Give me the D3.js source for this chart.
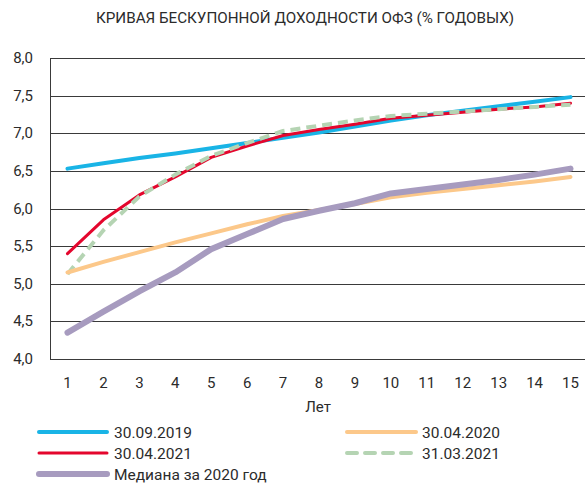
<!DOCTYPE html>
<html><head><meta charset="utf-8">
<script src="https://cdn.jsdelivr.net/npm/d3@7/dist/d3.min.js"></script>
<style>body{margin:0;background:#fff}svg{display:block}text{font-family:Roboto,"Noto Sans",sans-serif;fill:#2b2b2b}</style>
</head><body>
<script>
const years = [1,2,3,4,5,6,7,8,9,10,11,12,13,14,15];
const yTicks = [4.0,4.5,5.0,5.5,6.0,6.5,7.0,7.5,8.0];
const s20190930 = [6.53,6.60,6.67,6.73,6.80,6.87,6.94,7.01,7.09,7.17,7.24,7.30,7.36,7.42,7.48];
const s20200430 = [5.15,5.29,5.42,5.55,5.67,5.79,5.90,5.98,6.06,6.15,6.21,6.26,6.31,6.36,6.42];
const s20210430 = [5.40,5.85,6.18,6.42,6.68,6.83,6.97,7.05,7.12,7.20,7.24,7.28,7.32,7.35,7.40];
const s20210331 = [5.13,5.71,6.16,6.45,6.70,6.87,7.03,7.10,7.17,7.23,7.26,7.29,7.32,7.35,7.38];
const sMedian2020 = [4.35,4.63,4.90,5.15,5.46,5.66,5.86,5.97,6.07,6.20,6.26,6.32,6.38,6.45,6.53];
const title = "КРИВАЯ БЕСКУПОННОЙ ДОХОДНОСТИ ОФЗ (% ГОДОВЫХ)";
const xTitle = "Лет";

const series = [
  {name:"30.09.2019", values:s20190930, color:"#19b4e6", width:4, dash:null},
  {name:"30.04.2020", values:s20200430, color:"#fcc88a", width:4, dash:null},
  {name:"30.04.2021", values:s20210430, color:"#e4062d", width:3, dash:null},
  {name:"31.03.2021", values:s20210331, color:"#b5d4b3", width:4, dash:"10,6"},
  {name:"Медиана за 2020 год", values:sMedian2020, color:"#a79bbf", width:6, dash:null}
];

const W=585,H=489;
const svg=d3.select("body").append("svg").attr("width",W).attr("height",H);
const x=d3.scaleLinear().domain([1,15]).range([67.5,570.5]);
const y=d3.scaleLinear().domain([4,8]).range([359,58]);

svg.append("text").attr("x",305).attr("y",23).attr("text-anchor","middle")
  .style("font-size","15.2px").text(title);

// gridlines
svg.append("g").selectAll("line").data(yTicks).join("line")
  .attr("x1",50).attr("x2",585).attr("y1",d=>Math.round(y(d))+0.5).attr("y2",d=>Math.round(y(d))+0.5)
  .attr("stroke","#3a3a3a").attr("stroke-width",1);
svg.append("line").attr("x1",50.5).attr("x2",50.5).attr("y1",y(8)).attr("y2",y(4)+1).attr("stroke","#3a3a3a");

// y labels
svg.append("g").selectAll("text").data(yTicks).join("text")
  .attr("x",33).attr("y",d=>y(d)+5).attr("text-anchor","end").style("font-size","15px")
  .text(d=>d3.format(".1f")(d).replace(".",","));
// x labels
svg.append("g").selectAll("text").data(years).join("text")
  .attr("x",d=>x(d)).attr("y",388).attr("text-anchor","middle").style("font-size","15px").text(d=>d);
svg.append("text").attr("x",318).attr("y",412).attr("text-anchor","middle").style("font-size","15px").text(xTitle);

const line=d3.line().x((d,i)=>x(years[i])).y(d=>y(d));
const order=[0,2,3,1,4];
order.forEach(k=>{
  const s=series[k];
  svg.append("path").attr("d",line(s.values)).attr("fill","none").attr("stroke",s.color)
    .attr("stroke-width",s.width).attr("stroke-linejoin","round").attr("stroke-linecap", s.dash?"butt":"round")
    .attr("stroke-dasharray",s.dash);
});

// legend
const leg=[
  {s:0,x1:39,x2:107,tx:114,y:432},
  {s:1,x1:347,x2:416,tx:422,y:432},
  {s:2,x1:39,x2:107,tx:114,y:453},
  {s:3,x1:347,x2:416,tx:422,y:453},
  {s:4,x1:39,x2:107,tx:114,y:474}
];
leg.forEach(l=>{
  const s=series[l.s];
  svg.append("line").attr("x1",l.x1).attr("x2",l.x2).attr("y1",l.y).attr("y2",l.y)
    .attr("stroke",s.color).attr("stroke-width",s.width).attr("stroke-linecap","round")
    .attr("stroke-dasharray",s.dash?"10,8":null);
  svg.append("text").attr("x",l.tx).attr("y",l.y+5.5).style("font-size","15.5px").text(s.name);
});
</script>
</body></html>
